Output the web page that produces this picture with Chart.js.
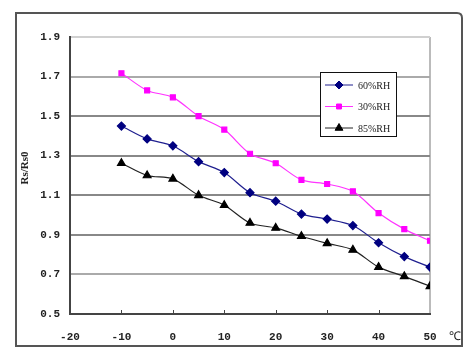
<!DOCTYPE html>
<html>
<head>
<meta charset="utf-8">
<script src="https://cdn.jsdelivr.net/npm/chart.js"></script>
<style>
  html, body { margin: 0; padding: 0; background: #fff; }
  #wrap { width: 466px; height: 348px; }
</style>
</head>
<body>
<div id="wrap"><canvas id="c" width="466" height="348"></canvas></div>
<script>
// temperature (deg C) and Rs/Rs0 for each humidity
const temps = [-10, -5, 0, 5, 10, 15, 20, 25, 30, 35, 40, 45, 50];
const rh60 = [1.45, 1.385, 1.35, 1.27, 1.215, 1.113, 1.07, 1.005, 0.98, 0.947, 0.86, 0.79, 0.737];
const rh30 = [1.717, 1.63, 1.595, 1.5, 1.432, 1.31, 1.262, 1.178, 1.157, 1.12, 1.01, 0.929, 0.87];
const rh85 = [1.262, 1.2, 1.183, 1.1, 1.05, 0.96, 0.935, 0.893, 0.857, 0.824, 0.737, 0.69, 0.64];
const seriesNames = ['60%RH', '30%RH', '85%RH'];
const xTicks = [-20, -10, 0, 10, 20, 30, 40, 50];
const yTicks = [0.5, 0.7, 0.9, 1.1, 1.3, 1.5, 1.7, 1.9];

const toPoints = vals => vals.map((v, i) => ({ x: temps[i], y: v }));

const tickFont = { family: 'Liberation Mono', size: 11, weight: 'bold' };

// frame, axis title, unit, inner ticks, legend
const decor = {
  id: 'decor',
  afterDraw(chart) {
    const ctx = chart.ctx;
    const xs = chart.scales.x, ys = chart.scales.y;
    ctx.save();

    // outer frame
    ctx.strokeStyle = '#555';
    ctx.lineWidth = 2;
    ctx.beginPath();
    ctx.moveTo(16, 346);
    ctx.lineTo(16, 13);
    ctx.lineTo(457, 13);
    ctx.quadraticCurveTo(462, 13, 462, 18);
    ctx.lineTo(462, 346);
    ctx.closePath();
    ctx.stroke();

    // small tick marks inside the bottom axis
    ctx.strokeStyle = '#444';
    ctx.lineWidth = 1;
    xTicks.slice(1, -1).forEach(t => {
      const px = Math.round(xs.getPixelForValue(t)) + 0.5;
      ctx.beginPath();
      ctx.moveTo(px, ys.bottom);
      ctx.lineTo(px, ys.bottom - 4);
      ctx.stroke();
    });

    // y axis title
    ctx.fillStyle = '#222';
    ctx.font = 'bold 11px "Liberation Serif"';
    ctx.textAlign = 'center';
    ctx.textBaseline = 'middle';
    ctx.save();
    ctx.translate(25, 168);
    ctx.rotate(-Math.PI / 2);
    ctx.fillText('Rs/Rs0', 0, 0);
    ctx.restore();

    // unit
    ctx.font = '12px "Liberation Serif"';
    ctx.fillText('℃', 455, 337);

    // legend
    const lx = 320, ly = 72, lw = 76, lh = 64;
    ctx.fillStyle = '#fff';
    ctx.fillRect(lx, ly, lw, lh);
    ctx.strokeStyle = '#111';
    ctx.lineWidth = 1;
    ctx.strokeRect(lx + 0.5, ly + 0.5, lw, lh);
    chart.data.datasets.forEach((ds, i) => {
      const y = ly + 13 + i * 21.5;
      ctx.strokeStyle = ds.borderColor;
      ctx.lineWidth = 1;
      ctx.beginPath();
      ctx.moveTo(lx + 5, y);
      ctx.lineTo(lx + 33, y);
      ctx.stroke();
      ctx.fillStyle = ds.pointBackgroundColor;
      ctx.strokeStyle = ds.pointBackgroundColor;
      Chart.helpers.drawPoint(ctx, {
        pointStyle: ds.pointStyle, radius: ds.pointRadius, borderWidth: 1
      }, lx + 19, y);
      ctx.fillStyle = '#222';
      ctx.font = '10px "Liberation Serif"';
      ctx.textAlign = 'left';
      ctx.fillText(ds.label, lx + 38, y + 1);
    });

    ctx.restore();
  }
};

new Chart(document.getElementById('c'), {
  type: 'line',
  data: {
    datasets: [
      {
        label: seriesNames[0], data: toPoints(rh60),
        borderColor: '#1f1f8f', backgroundColor: '#000080',
        pointBackgroundColor: '#000080', pointBorderColor: '#000080',
        pointStyle: 'rectRot', pointRadius: 4, borderWidth: 1.2, tension: 0.3
      },
      {
        label: seriesNames[1], data: toPoints(rh30),
        borderColor: '#ff33ff', backgroundColor: '#ff00ff',
        pointBackgroundColor: '#ff00ff', pointBorderColor: '#ff00ff',
        pointStyle: 'rect', pointRadius: 3.5, borderWidth: 1.2, tension: 0.3
      },
      {
        label: seriesNames[2], data: toPoints(rh85),
        borderColor: '#222', backgroundColor: '#000',
        pointBackgroundColor: '#000', pointBorderColor: '#000',
        pointStyle: 'triangle', pointRadius: 4.5, borderWidth: 1.2, tension: 0.3
      }
    ]
  },
  options: {
    responsive: false,
    animation: false,
    layout: { padding: { left: 0, right: 36, top: 37, bottom: 0 } },
    plugins: { legend: { display: false }, tooltip: { enabled: false } },
    scales: {
      x: {
        type: 'linear', min: -20, max: 50,
        afterBuildTicks: s => { s.ticks = xTicks.map(v => ({ value: v })); },
        afterFit: s => { s.height = 34; },
        border: { display: true, color: '#444', width: 2 },
        grid: {
          drawTicks: false,
          color: c => (c.tick && c.tick.value === 50 ? '#bbb' : 'rgba(0,0,0,0)'),
          lineWidth: 2
        },
        ticks: { color: '#222', font: tickFont, padding: 17, maxRotation: 0 }
      },
      y: {
        min: 0.5, max: 1.9,
        afterBuildTicks: s => { s.ticks = yTicks.map(v => ({ value: v })); },
        afterFit: s => { s.width = 70; },
        border: { display: true, color: '#444', width: 2 },
        grid: {
          drawTicks: false,
          lineWidth: 2,
          color: c => {
            const v = c.tick ? Math.round(c.tick.value * 10) / 10 : 0;
            if (v === 1.9) return '#d0d0d0';
            if (v === 1.7 || v === 0.7) return '#aaa';
            return '#888';
          }
        },
        ticks: {
          color: '#222', font: tickFont, padding: 10,
          callback: v => v.toFixed(1)
        }
      }
    }
  },
  plugins: [decor]
});
</script>
</body>
</html>
